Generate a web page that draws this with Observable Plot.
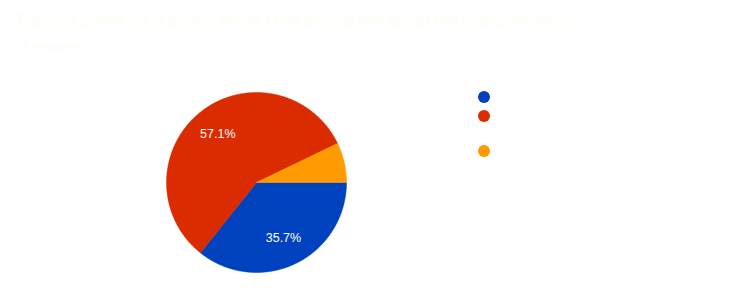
<!DOCTYPE html>
<html>
<head>
<meta charset="utf-8">
<script src="https://cdn.jsdelivr.net/npm/d3@7"></script>
<script src="https://cdn.jsdelivr.net/npm/@observablehq/plot@0.6"></script>
<style>
  html, body { margin: 0; padding: 0; background: #ffffff; }
  #wrap { position: relative; width: 747px; height: 292px; overflow: hidden; font-family: Arial, "Liberation Sans", sans-serif; }
  #head { height: 62px; box-sizing: border-box; padding: 9px 0 0 15px; color: #fefef5; }
  #title { font-size: 16.4px; line-height: 22px; }
  #subtitle { font-size: 12px; line-height: 16px; margin-top: 8px; }
  #legend { position: absolute; left: 478px; top: 89px; display: flex; flex-direction: column; gap: 3px; }
  .item { display: flex; align-items: flex-start; }
  .dot { width: 12px; height: 12px; border-radius: 50%; margin-top: 2px; flex: none; }
  .lab { margin-left: 8px; width: 200px; font-size: 12px; line-height: 16px; color: #ffffff; }
  svg { display: block; }
</style>
</head>
<body>
<div id="wrap">
  <div id="head">
    <div id="title"></div>
    <div id="subtitle"></div>
  </div>
  <div id="chart"></div>
  <div id="legend"></div>
</div>
<script>
const titleText = "This is a poster for a band's show. How do you feel about the character faces?";
const subtitleText = "14 responses";
const categories = ["I like them a lot", "They're okay, but they could be a little bit better than they are", "I don't like them"];
const values = [5, 8, 1];
const colors = ["#0042be", "#da2c00", "#ff9a00"];

document.getElementById("title").textContent = titleText;
document.getElementById("subtitle").textContent = subtitleText;

const total = d3.sum(values);
const arcs = d3.pie().sort(null).value(d => d.value)
  .startAngle(Math.PI / 2).endAngle(Math.PI / 2 + 2 * Math.PI)(
    categories.map((c, i) => ({category: c, value: values[i]}))
  );

// polygon outlines in unit-circle data space
const outline = [];
arcs.forEach(a => {
  const n = Math.max(2, Math.ceil((a.endAngle - a.startAngle) / (Math.PI / 360)));
  outline.push({category: a.data.category, x: 0, y: 0});
  for (let k = 0; k <= n; k++) {
    const t = a.startAngle + (a.endAngle - a.startAngle) * k / n;
    outline.push({category: a.data.category, x: Math.sin(t), y: Math.cos(t)});
  }
  outline.push({category: a.data.category, x: 0, y: 0});
});

const labels = arcs.filter(a => a.data.value / total > 0.1).map(a => {
  const m = (a.startAngle + a.endAngle) / 2;
  return {x: 0.69 * Math.sin(m), y: 0.69 * Math.cos(m), text: d3.format(".1%")(a.data.value / total)};
});

const cx = 256, cy = 120, r = 90;
const chart = Plot.plot({
  width: 747,
  height: 230,
  margin: 0,
  x: {domain: [-1, 1], range: [cx - r, cx + r], axis: null},
  y: {domain: [-1, 1], range: [cy + r, cy - r], axis: null},
  color: {domain: categories, range: colors},
  style: {background: "#ffffff"},
  marks: [
    Plot.line(outline, {x: "x", y: "y", z: "category", fill: "category", stroke: "category", strokeWidth: 0.5}),
    Plot.text(labels, {x: "x", y: "y", text: "text", fill: "#ffffff", fontSize: 12.5, fontFamily: "Arial, 'Liberation Sans', sans-serif"})
  ]
});
document.getElementById("chart").appendChild(chart);

const legend = document.getElementById("legend");
categories.forEach((c, i) => {
  const item = document.createElement("div");
  item.className = "item";
  const dot = document.createElement("div");
  dot.className = "dot";
  dot.style.background = colors[i];
  const lab = document.createElement("div");
  lab.className = "lab";
  lab.textContent = c;
  item.appendChild(dot);
  item.appendChild(lab);
  legend.appendChild(item);
});
</script>
</body>
</html>
